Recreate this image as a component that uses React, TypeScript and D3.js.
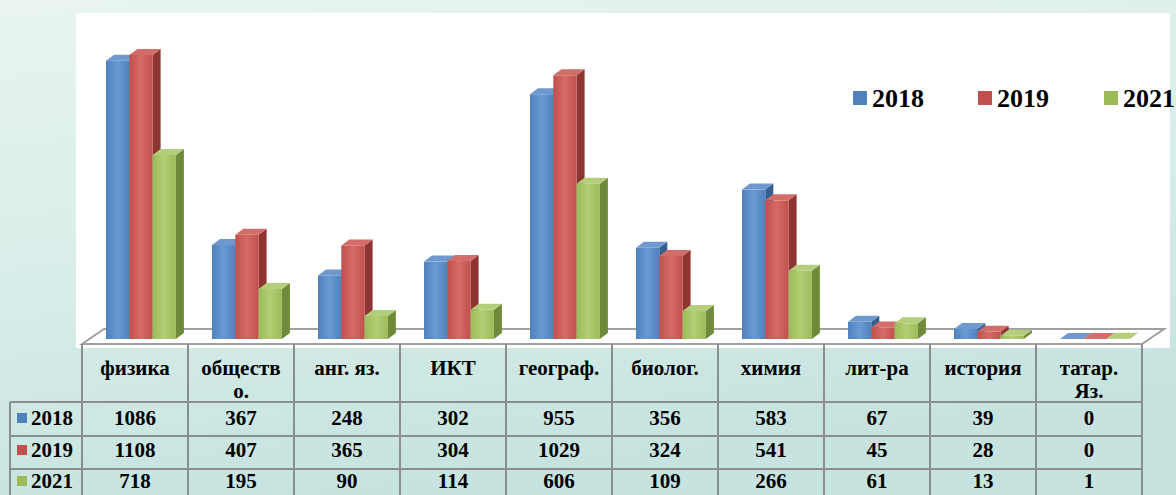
import React from 'react';
import * as d3 from 'd3';

const categories = ['физика', 'обществ\nо.', 'анг. яз.', 'ИКТ', 'географ.', 'биолог.', 'химия', 'лит-ра', 'история', 'татар.\nЯз.'];
const years = ['2018', '2019', '2021'];
const values2018 = [1086, 367, 248, 302, 955, 356, 583, 67, 39, 0];
const values2019 = [1108, 407, 365, 304, 1029, 324, 541, 45, 28, 0];
const values2021 = [718, 195, 90, 114, 606, 109, 266, 61, 13, 1];
const seriesValues = [values2018, values2019, values2021];

const colors = [
  { front: '#4F81BD', light: '#6B9AD3', side: '#355E91', top: '#6E98CE' },
  { front: '#C0504D', light: '#D66A66', side: '#8E3431', top: '#D26D69' },
  { front: '#9BBB59', light: '#B2CF74', side: '#6E8A3A', top: '#B4CE7C' },
];

const W = 1176;
const H = 495;

// table / floor geometry
const tableLeft = 82;
const colW = 106;
const tableRight = tableLeft + colW * categories.length;
const floorFront = 344;
const floorDx = 22;
const floorDy = -15;
const rowTops = [402, 436, 469, 503];
const rowBaselines = [425, 457, 488];
const labelLeft = 10;

// bars
const barBase = 339;
const barW = 23.3;
const barOffset = 24;
const depthX = 8;
const depthY = -6;

const serif = "'Liberation Serif', 'Times New Roman', 'DejaVu Serif', serif";

const App: React.FC = () => {
  const x = d3.scaleBand<string>()
    .domain(categories)
    .range([tableLeft, tableRight])
    .padding(0);
  const y = d3.scaleLinear().domain([0, 1200]).range([barBase, barBase - 1200 * 0.2563]);

  const bars: React.ReactNode[] = [];
  categories.forEach((c, i) => {
    seriesValues.forEach((vals, s) => {
      const x0 = (x(c) as number) + barOffset + s * barW;
      const x1 = x0 + barW;
      const yt = y(vals[i]);
      const col = colors[s];
      bars.push(
        <g key={`${i}-${s}`}>
          <polygon
            points={`${x1},${barBase} ${x1 + depthX},${barBase + depthY} ${x1 + depthX},${yt + depthY} ${x1},${yt}`}
            fill={col.side}
          />
          <rect x={x0} y={yt} width={barW} height={barBase - yt} fill={`url(#grad${s})`} />
          <polygon
            points={`${x0},${yt} ${x0 + depthX},${yt + depthY} ${x1 + depthX},${yt + depthY} ${x1},${yt}`}
            fill={col.top}
          />
        </g>
      );
    });
  });

  const gridColor = '#8a8f8e';

  return (
    <svg width={W} height={H} style={{ position: 'absolute', left: 0, top: 0, display: 'block' }}>
      <defs>
        <linearGradient id="bg" x1="0" y1="0" x2="0.3" y2="1">
          <stop offset="0%" stopColor="#e9f4f0" />
          <stop offset="50%" stopColor="#d9eeea" />
          <stop offset="100%" stopColor="#c6e3df" />
        </linearGradient>
        {colors.map((c, s) => (
          <linearGradient key={s} id={`grad${s}`} x1="0" y1="0" x2="1" y2="0">
            <stop offset="0%" stopColor={c.front} />
            <stop offset="50%" stopColor={c.light} />
            <stop offset="100%" stopColor={c.front} />
          </linearGradient>
        ))}
      </defs>
      <rect x={0} y={0} width={W} height={H} fill="url(#bg)" />
      {/* white chart panel */}
      <rect x={76} y={13} width={1094} height={335} fill="#ffffff" />

      {/* floor */}
      <polygon
        points={`${tableLeft},${floorFront} ${tableLeft + floorDx},${floorFront + floorDy} ${tableRight + floorDx},${floorFront + floorDy} ${tableRight},${floorFront}`}
        fill="#ffffff"
        stroke="#a0a0a0"
        strokeWidth={2}
      />

      {bars}

      {/* legend */}
      {years.map((yr, s) => {
        const lx = [853, 978, 1104][s];
        return (
          <g key={yr}>
            <rect x={lx} y={91} width={14} height={14} fill={colors[s].front} />
            <text x={lx + 19} y={107} style={{ fontFamily: serif }} fontWeight="bold" fontSize={26} fill="#000">{yr}</text>
          </g>
        );
      })}

      {/* data table */}
      <g style={{ fontFamily: serif }} fontWeight="bold" fill="#000">
        {d3.range(categories.length + 1).map((k) => (
          <line key={`v${k}`} x1={tableLeft + k * colW} x2={tableLeft + k * colW} y1={floorFront} y2={H}
            stroke={gridColor} strokeWidth={2} />
        ))}
        <line x1={labelLeft} x2={labelLeft} y1={rowTops[0]} y2={H} stroke={gridColor} strokeWidth={2} />
        {rowTops.map((ry, k) => (
          <line key={`h${k}`} x1={labelLeft} x2={tableRight} y1={ry} y2={ry} stroke={gridColor} strokeWidth={2} />
        ))}

        {categories.map((c) => {
          const cx = (x(c) as number) + colW / 2;
          const lines = c.split('\n');
          return (
            <text key={c} x={cx} y={375} textAnchor="middle" fontSize={21}>
              {lines.map((ln, j) => (
                <tspan key={j} x={cx} dy={j === 0 ? 0 : 23}>{ln}</tspan>
              ))}
            </text>
          );
        })}

        {years.map((yr, s) => {
          const base = rowBaselines[s];
          return (
            <g key={yr}>
              <rect x={17} y={base - 12} width={10} height={10} fill={colors[s].front} />
              <text x={31} y={base} fontSize={21}>{yr}</text>
              {categories.map((c, i) => (
                <text key={c} x={(x(c) as number) + colW / 2} y={base} textAnchor="middle" fontSize={21}>
                  {seriesValues[s][i]}
                </text>
              ))}
            </g>
          );
        })}
      </g>
    </svg>
  );
};

export default App;
